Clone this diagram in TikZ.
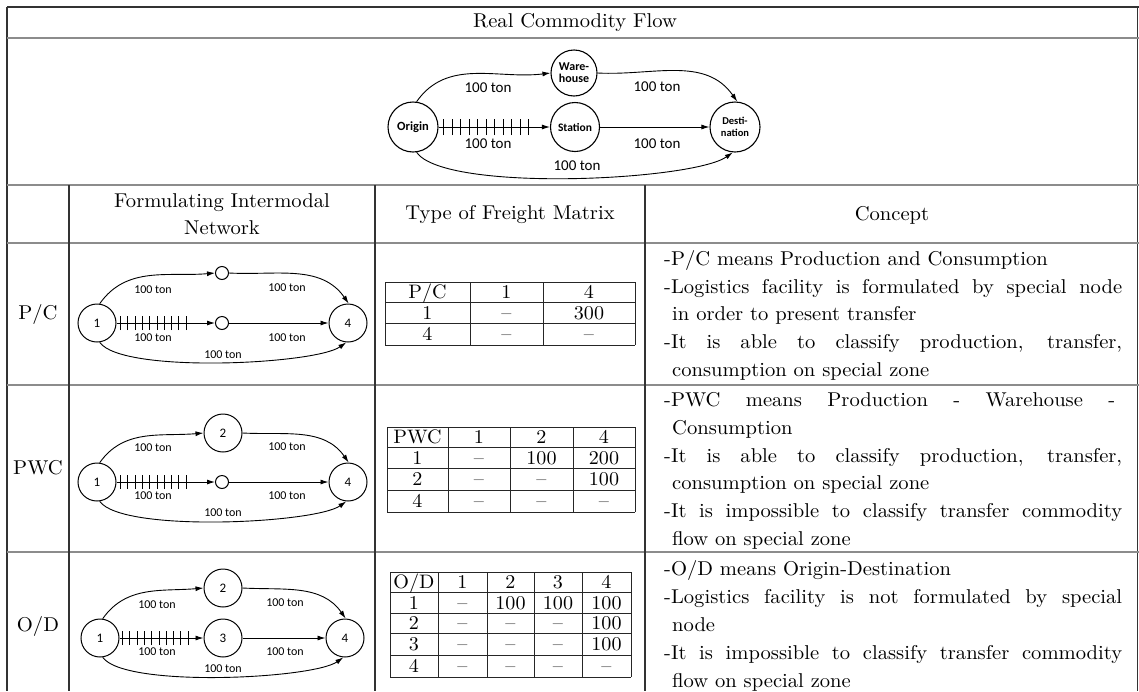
\documentclass[tikz,border=0pt]{standalone}
\usepackage{fontspec}
\setmainfont{lmroman10-regular.otf}[FakeStretch=1.03]
\newfontfamily\carl{Carlito}
\usetikzlibrary{arrows.meta}
\begin{document}
\begin{tikzpicture}[x=1pt,y=1pt,
  frame/.style={line width=1.2pt, black!80},
  sepl/.style={line width=2pt, black!45},
  tl/.style={line width=0.9pt, black!85},
  hd/.style={inner sep=0pt, font=\fontsize{20}{27}\selectfont, align=center},
  cpt/.style={anchor=west, inner sep=0pt, font=\fontsize{20}{24}\selectfont, text height=14pt, text depth=4pt},
  cell/.style={inner sep=0pt, font=\fontsize{19.5}{22}\selectfont, text height=13pt, text depth=0pt},
  bignode/.style={circle, draw, line width=1pt, inner sep=0pt, minimum size=38pt, font=\carl\fontsize{13}{13}\selectfont},
  smallnode/.style={circle, draw, line width=1pt, inner sep=0pt, minimum size=13pt},
  topnode/.style={circle, draw, line width=1.1pt, inner sep=0pt, align=center, font=\carl\bfseries\fontsize{12.5}{12.5}\selectfont},
  arr/.style={-{Latex[length=8pt,width=5pt]}, line width=0.9pt},
  rail/.style={line width=0.9pt},
  ton/.style={inner sep=0pt, font=\carl\fontsize{12}{12}\selectfont},
  bigton/.style={inner sep=0pt, font=\carl\fontsize{15}{15}\selectfont}
]
\useasboundingbox (0,0) rectangle (1139,-691);

% ---------- frame ----------
\draw[frame] (7,-7) -- (1139,-7);
\draw[frame] (7,-7) -- (7,-691);
\draw[frame] (1137.5,-7) -- (1137.5,-691);
\foreach \y in {38,185,243,385,552} \draw[sepl] (7,-\y) -- (1139,-\y);
\foreach \x in {69,375,645} \draw[frame] (\x,-185) -- (\x,-691);

% ---------- headers ----------
\node[hd] (title) at (575,-22) {Real Commodity Flow};
\node[hd] (hnet) at (222,-214) {Formulating Intermodal\\Network};
\node[hd] (hmat) at (510,-215) {Type of Freight Matrix};
\node[hd] (hcon) at (892,-215) {Concept};
\node[hd] (rpc) at (38,-314) {P/C};
\node[hd] (rpwc) at (38,-468) {PWC};
\node[hd] (rod) at (38,-626) {O/D};

% ---------- top diagram ----------
\node[topnode, minimum size=50pt] (O) at (413,-127) {Origin};
\node[topnode, minimum size=46pt, font=\carl\bfseries\fontsize{12}{12}\selectfont] (W) at (574,-73) {Ware-\\house};
\node[topnode, minimum size=49pt, font=\carl\bfseries\fontsize{11.5}{11.5}\selectfont] (S) at (575,-127) {Station};
\node[topnode, minimum size=50pt, font=\carl\bfseries\fontsize{10.5}{12}\selectfont] (D) at (735,-127) {Desti-\\nation};
\draw[arr] (O.82) to[out=55,in=187] (W.west);
\draw[arr] (W.east) to[out=-3,in=125] (D.85);
\draw[arr] (O.east) -- (S.west);
\foreach \i in {0,...,10} \draw[rail] ([xshift=5pt+\i*8.5pt]O.east) +(0,-8) -- +(0,8);
\draw[arr] (S.east) -- (D.west);
\draw[arr] (O.-82) to[out=-55,in=-145,looseness=0.4] (D.-95);
\node[bigton] (t1) at (488,-88) {100 ton};
\node[bigton] (t2) at (657,-87) {100 ton};
\node[bigton] (t3) at (488,-144) {100 ton};
\node[bigton] (t4) at (657,-144) {100 ton};
\node[bigton] (t5) at (577,-166) {100 ton};

% ---------- P/C network ----------
\node[bignode] (a1) at (97,-323) {1};
\node[smallnode] (at) at (222,-273) {};
\node[smallnode] (am) at (222,-323) {};
\node[bignode] (a4) at (348,-323) {4};
\draw[arr] (a1.82) to[out=55,in=185] (at.west);
\draw[arr] (at.east) to[out=-3,in=125] (a4.88);
\draw[arr] (a1.east) -- (am.west);
\foreach \i in {0,...,9} \draw[rail] ([xshift=4pt+\i*7.3pt]a1.east) +(0,-7) -- +(0,7);
\draw[arr] (am.east) -- (a4.west);
\draw[arr] (a1.-82) to[out=-55,in=-145,looseness=0.4] (a4.-95);
\node[ton] (a_l1) at (153,-290) {100 ton};
\node[ton] (a_l2) at (287,-288) {100 ton};
\node[ton] (a_l3) at (153,-338) {100 ton};
\node[ton] (a_l4) at (287,-338) {100 ton};
\node[ton] (a_l5) at (223,-355) {100 ton};

% ---------- PWC network ----------
\node[bignode] (b1) at (97,-482) {1};
\node[bignode] (b2) at (223,-433) {2};
\node[smallnode] (bm) at (222,-482) {};
\node[bignode] (b4) at (348,-482) {4};
\draw[arr] (b1.82) to[out=55,in=185] (b2.west);
\draw[arr] (b2.east) to[out=-3,in=125] (b4.88);
\draw[arr] (b1.east) -- (bm.west);
\foreach \i in {0,...,9} \draw[rail] ([xshift=4pt+\i*7.3pt]b1.east) +(0,-7) -- +(0,7);
\draw[arr] (bm.east) -- (b4.west);
\draw[arr] (b1.-82) to[out=-55,in=-145,looseness=0.4] (b4.-95);
\node[ton] (b_l1) at (153,-448) {100 ton};
\node[ton] (b_l2) at (287,-447) {100 ton};
\node[ton] (b_l3) at (153,-496) {100 ton};
\node[ton] (b_l4) at (287,-496) {100 ton};
\node[ton] (b_l5) at (223,-513) {100 ton};

% ---------- O/D network ----------
\node[bignode] (c1) at (100,-638) {1};
\node[bignode] (c2) at (223,-588) {2};
\node[bignode] (c3) at (223,-638) {3};
\node[bignode] (c4) at (345,-638) {4};
\draw[arr] (c1.82) to[out=55,in=185] (c2.west);
\draw[arr] (c2.east) to[out=-3,in=125] (c4.88);
\draw[arr] (c1.east) -- (c3.west);
\foreach \i in {0,...,9} \draw[rail] ([xshift=3pt+\i*7.3pt]c1.east) +(0,-7) -- +(0,7);
\draw[arr] (c3.east) -- (c4.west);
\draw[arr] (c1.-82) to[out=-55,in=-145,looseness=0.4] (c4.-95);
\node[ton] (c_l1) at (157,-605) {100 ton};
\node[ton] (c_l2) at (285,-603) {100 ton};
\node[ton] (c_l3) at (157,-652) {100 ton};
\node[ton] (c_l4) at (285,-652) {100 ton};
\node[ton] (c_l5) at (223,-669) {100 ton};

% ---------- P/C matrix ----------
\foreach \x in {385,470,543,635} \draw[tl] (\x,-282) -- (\x,-345);
\foreach \y in {282,302,323,345} \draw[tl] (385,-\y) -- (635,-\y);
\foreach \x/\t [count=\i] in {427.5/{P/C},506.5/1,589/4} \node[cell] (pA\i) at (\x,-292) {\t};
\foreach \x/\t [count=\i] in {427.5/1,506.5/--,589/300} \node[cell] (pB\i) at (\x,-312.5) {\t};
\foreach \x/\t [count=\i] in {427.5/4,506.5/--,589/--} \node[cell] (pC\i) at (\x,-334) {\t};

% ---------- PWC matrix ----------
\foreach \x in {387,448,510,573,635} \draw[tl] (\x,-427) -- (\x,-512);
\foreach \y in {427,447,468,490,512} \draw[tl] (387,-\y) -- (635,-\y);
\foreach \x/\t [count=\i] in {417.5/PWC,479/1,541.5/2,604/4} \node[cell] (wA\i) at (\x,-437) {\t};
\foreach \x/\t [count=\i] in {417.5/1,479/--,541.5/100,604/200} \node[cell] (wB\i) at (\x,-457.5) {\t};
\foreach \x/\t [count=\i] in {417.5/2,479/--,541.5/--,604/100} \node[cell] (wC\i) at (\x,-479) {\t};
\foreach \x/\t [count=\i] in {417.5/4,479/--,541.5/--,604/--} \node[cell] (wD\i) at (\x,-501) {\t};

% ---------- O/D matrix ----------
\foreach \x in {390,438,487,534,582,631} \draw[tl] (\x,-572) -- (\x,-677);
\foreach \y in {572,592,613,633,655,677} \draw[tl] (390,-\y) -- (631,-\y);
\foreach \x/\t [count=\i] in {414/{O/D},462.5/1,510.5/2,558/3,606.5/4} \node[cell] (oA\i) at (\x,-582) {\t};
\foreach \x/\t [count=\i] in {414/1,462.5/--,510.5/100,558/100,606.5/100} \node[cell] (oB\i) at (\x,-602.5) {\t};
\foreach \x/\t [count=\i] in {414/2,462.5/--,510.5/--,558/--,606.5/100} \node[cell] (oC\i) at (\x,-623) {\t};
\foreach \x/\t [count=\i] in {414/3,462.5/--,510.5/--,558/--,606.5/100} \node[cell] (oD\i) at (\x,-644) {\t};
\foreach \x/\t [count=\i] in {414/4,462.5/--,510.5/--,558/--,606.5/--} \node[cell] (oE\i) at (\x,-666) {\t};

% ---------- concept text ----------
\node[cpt] (k1) at (664,-260) {-P/C means Production and Consumption};
\node[cpt] (k2) at (664,-288) {\makebox[458pt][s]{-Logistics facility is formulated by special node}};
\node[cpt] (k3) at (672,-315) {in order to present transfer};
\node[cpt] (k4) at (664,-343) {\makebox[458pt][s]{-It is able to classify production, transfer,}};
\node[cpt] (k5) at (672,-371) {consumption on special zone};

\node[cpt] (k6) at (664,-401) {\makebox[451pt][s]{-PWC means Production - Warehouse -}};
\node[cpt] (k7) at (672,-429) {Consumption};
\node[cpt] (k8) at (664,-457) {\makebox[458pt][s]{-It is able to classify production, transfer,}};
\node[cpt] (k9) at (672,-484) {consumption on special zone};
\node[cpt] (k10) at (664,-512) {\makebox[458pt][s]{-It is impossible to classify transfer commodity}};
\node[cpt] (k11) at (672,-540) {flow on special zone};

\node[cpt] (k12) at (664,-570) {-O/D means Origin-Destination};
\node[cpt] (k13) at (664,-598) {\makebox[458pt][s]{-Logistics facility is not formulated by special}};
\node[cpt] (k14) at (672,-626) {node};
\node[cpt] (k15) at (664,-654) {\makebox[458pt][s]{-It is impossible to classify transfer commodity}};
\node[cpt] (k16) at (672,-682) {flow on special zone};
\end{tikzpicture}
\end{document}
